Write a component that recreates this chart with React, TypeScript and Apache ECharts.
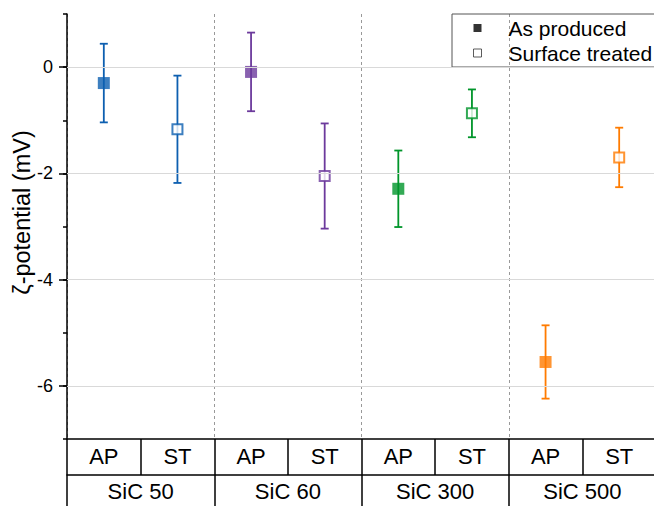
import React, { useEffect, useRef } from 'react';
import * as echarts from 'echarts';

const categories = ['AP', 'ST', 'AP', 'ST', 'AP', 'ST', 'AP', 'ST'];
const groups = ['SiC 50', 'SiC 60', 'SiC 300', 'SiC 500'];
const apMean = [-0.3, -0.09, -2.29, -5.55];
const apErr = [0.74, 0.74, 0.72, 0.69];
const stMean = [-1.17, -2.05, -0.87, -1.7];
const stErr = [1.01, 0.99, 0.45, 0.56];
const groupColors = ['#0d5fb0', '#6c3a9c', '#00952a', '#ff7b00'];
const yMajorTicks = [-6, -4, -2, 0];
const seriesNames = ['As produced', 'Surface treated'];
const yTitle = 'ζ-potential (mV)';

export default function App() {
  const ref = useRef<HTMLDivElement>(null);
  useEffect(() => {
    const chart = echarts.init(ref.current!, null, { renderer: 'svg' });
    const font = 'Arial, "Liberation Sans", sans-serif';
    const errData: number[][] = [];
    groups.forEach((_, g) => {
      errData.push([2 * g, apMean[g], apErr[g], g]);
      errData.push([2 * g + 1, stMean[g], stErr[g], g]);
    });
    const black = '#000';
    const option: any = {
      animation: false,
      backgroundColor: '#fff',
      textStyle: { fontFamily: font },
      grid: { left: 67, top: 14, right: -2, bottom: 67, outerBoundsMode: 'none', containLabel: false },
      legend: {
        orient: 'vertical',
        left: 452,
        top: 14,
        itemWidth: 8,
        itemHeight: 8,
        itemGap: 3,
        padding: [3, 15, 3, 21],
        borderColor: '#555',
        borderWidth: 1,
        selectedMode: false,
        textStyle: { fontSize: 21, lineHeight: 22, color: black, fontFamily: font, padding: [0, 0, 0, 22] },
        data: [
          { name: seriesNames[0], icon: 'rect', itemStyle: { color: '#000', borderWidth: 0 } },
          { name: seriesNames[1], icon: 'rect', itemStyle: { color: '#fff', borderColor: '#333', borderWidth: 1 } },
        ],
      },
      xAxis: [
        {
          type: 'category',
          data: categories,
          position: 'bottom',
          boundaryGap: true,
          axisLine: { show: true, onZero: false, lineStyle: { color: black, width: 1.5 } },
          axisTick: { show: true, alignWithLabel: false, inside: false, length: 36, lineStyle: { color: black, width: 1.5 } },
          axisLabel: { fontSize: 22, color: black, margin: 6, fontFamily: font, interval: 0 },
          splitLine: { show: false },
        },
        {
          type: 'category',
          data: groups,
          position: 'bottom',
          offset: 36,
          boundaryGap: true,
          axisLine: { show: true, onZero: false, lineStyle: { color: black, width: 1.5 } },
          axisTick: { show: true, alignWithLabel: false, inside: false, length: 40, lineStyle: { color: black, width: 1.5 } },
          axisLabel: { fontSize: 22, color: black, margin: 5, fontFamily: font, interval: 0 },
          splitLine: { show: true, interval: 0, lineStyle: { color: '#999', width: 1, type: [3, 3] } },
        },
      ],
      yAxis: [
        {
          type: 'value',
          min: -7,
          max: 1,
          interval: 1,
          position: 'left',
          axisLine: { show: true, onZero: false, lineStyle: { color: black, width: 1.5 } },
          axisTick: { show: true, inside: false, length: 4, lineStyle: { color: black, width: 1.5 } },
          axisLabel: { show: false },
          splitLine: { show: false },
          name: yTitle,
          nameLocation: 'middle',
          nameGap: 33,
          nameTextStyle: { fontSize: 23.5, color: black, fontFamily: font, padding: [0, 0, 0, 28] },
        },
        {
          type: 'value',
          min: -7,
          max: 1,
          position: 'left',
          offset: 0,
          axisLine: { show: false, onZero: false },
          axisTick: { show: true, inside: false, length: 8, customValues: yMajorTicks, lineStyle: { color: black, width: 1.5 } },
          axisLabel: { show: true, customValues: yMajorTicks, fontSize: 18, color: black, margin: 14, fontFamily: font },
          splitLine: { show: false },
        },
      ],
      series: [
        {
          type: 'line',
          name: 'grid',
          data: [],
          z: 1,
          silent: true,
          markLine: {
            silent: true,
            symbol: ['none', 'none'],
            label: { show: false },
            lineStyle: { color: '#d9d9d9', width: 1, type: 'solid' },
            data: yMajorTicks.map((v) => ({ yAxis: v })),
          },
        },
        {
          type: 'custom',
          name: 'errors',
          xAxisIndex: 0,
          yAxisIndex: 0,
          z: 2,
          silent: true,
          encode: { x: 0, y: 1 },
          data: errData,
          renderItem: (params: any, api: any) => {
            const x = api.value(0);
            const m = api.value(1);
            const e = api.value(2);
            const color = groupColors[api.value(3)];
            const top = api.coord([x, m + e]);
            const bot = api.coord([x, m - e]);
            const hw = 4;
            const style = { stroke: color, lineWidth: 1.8, fill: 'none' };
            return {
              type: 'group',
              children: [
                { type: 'line', shape: { x1: top[0], y1: top[1], x2: bot[0], y2: bot[1] }, style },
                { type: 'line', shape: { x1: top[0] - hw, y1: top[1], x2: top[0] + hw, y2: top[1] }, style },
                { type: 'line', shape: { x1: bot[0] - hw, y1: bot[1], x2: bot[0] + hw, y2: bot[1] }, style },
              ],
            };
          },
        },
        {
          type: 'scatter',
          name: seriesNames[0],
          xAxisIndex: 0,
          yAxisIndex: 0,
          z: 3,
          symbol: 'rect',
          symbolSize: 12,
          data: apMean.map((v, g) => ({ value: [2 * g, v], itemStyle: { color: groupColors[g] } })),
        },
        {
          type: 'scatter',
          name: seriesNames[1],
          xAxisIndex: 0,
          yAxisIndex: 0,
          z: 3,
          symbol: 'rect',
          symbolSize: 10,
          data: stMean.map((v, g) => ({
            value: [2 * g + 1, v],
            itemStyle: { color: '#fff', borderColor: groupColors[g], borderWidth: 2 },
          })),
        },
      ],
    };
    chart.setOption(option);
    return () => chart.dispose();
  }, []);
  return <div ref={ref} style={{ position: 'fixed', left: 0, top: 0, width: 654, height: 506 }} />;
}
